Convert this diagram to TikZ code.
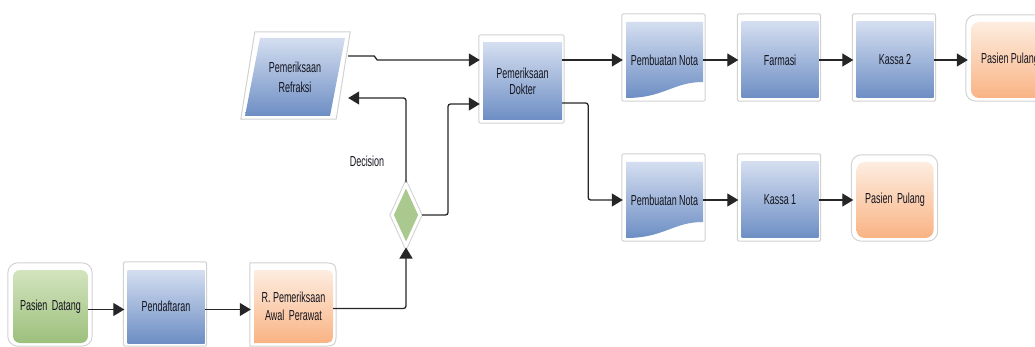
\documentclass[tikz,border=0pt]{standalone}
\usepackage{fontspec}
\setmainfont{Liberation Sans}[FakeStretch=0.62]
\usetikzlibrary{arrows.meta,shapes.geometric}
\pgfdeclarelayer{bg}\pgfsetlayers{bg,main}
\definecolor{blueTop}{HTML}{D4DEF0}
\definecolor{blueBot}{HTML}{6D8EC4}
\definecolor{greenTop}{HTML}{D3E4BE}
\definecolor{greenBot}{HTML}{9CC07C}
\definecolor{orTop}{HTML}{FDEDE0}
\definecolor{orBot}{HTML}{F9B384}
\definecolor{dGreen}{HTML}{A9C98F}
\definecolor{lineC}{HTML}{262626}
\definecolor{frameC}{HTML}{D2D2D2}
\definecolor{txt}{HTML}{14141E}
\begin{document}
\begin{tikzpicture}[x=1pt,y=-1pt,
  lbl/.style={font=\fontsize{14.5}{18}\selectfont, text=txt, align=center, inner sep=0pt},
  bluebox/.style={lbl, rectangle, top color=blueTop, bottom color=blueBot, minimum width=77pt, minimum height=76pt},
  docbox/.style={lbl, rectangle, minimum width=77pt, minimum height=76pt,
    path picture={\shade[top color=blueTop,bottom color=blueBot]
      (path picture bounding box.north west) -- (path picture bounding box.north east)
      -- ([yshift=16pt]path picture bounding box.south east)
      .. controls +(-30pt,0pt) and +(38pt,0pt) .. (path picture bounding box.south west) -- cycle;}},
  greenbox/.style={lbl, rectangle, rounded corners=7pt, top color=greenTop, bottom color=greenBot, minimum width=75pt, minimum height=73pt},
  orbox/.style={lbl, rectangle, rounded corners=8pt, top color=orTop, bottom color=orBot, minimum width=77pt, minimum height=76pt},
  delaybox/.style={lbl, rectangle, minimum width=79pt, minimum height=73pt,
    path picture={\shade[top color=orTop,bottom color=orBot]
      (path picture bounding box.south west) -- (path picture bounding box.north west)
      -- ([xshift=-14pt]path picture bounding box.north east)
      .. controls (path picture bounding box.north east) .. ([yshift=-14pt]path picture bounding box.north east)
      -- ([yshift=14pt]path picture bounding box.south east)
      .. controls (path picture bounding box.south east) .. ([xshift=-14pt]path picture bounding box.south east)
      -- cycle;}},
  parabox/.style={lbl, rectangle, minimum width=100pt, minimum height=78pt,
    path picture={\shade[top color=blueTop,bottom color=blueBot]
      (path picture bounding box.south west) -- ([xshift=-15pt]path picture bounding box.south east)
      -- (path picture bounding box.north east) -- ([xshift=15pt]path picture bounding box.north west) -- cycle;}},
  decbox/.style={diamond, aspect=0.5, inner sep=0pt, minimum width=29pt, minimum height=62pt,
    fill=dGreen, draw=white, line width=3pt, preaction={draw=frameC, line width=5pt}},
  frame/.style={draw=frameC, fill=white, line width=1pt},
  arr/.style={draw=lineC, line width=1.3pt, -{Triangle[length=11pt,width=13pt]}, rounded corners=2.5pt, shorten >=3pt}
]
\useasboundingbox (0,0) rectangle (1035,347);

% nodes
\node[greenbox] (pd) at (50.5,306.5) {Pasien\hspace{2pt} Datang};
\node[bluebox, minimum height=73pt] (pf) at (166,306.5) {Pendaftaran};
\node[delaybox] (rp) at (293.5,306.5) {R. Pemeriksaan\\Awal\hspace{2pt} Perawat};
\node[decbox] (dc) at (406,215) {};
\node[lbl] (dl) at (367,161) {Decision};
\node[parabox, font=\fontsize{14.5}{20}\selectfont] (rf) at (295,77) {Pemeriksaan\\Refraksi};
\node[bluebox, minimum width=79pt, minimum height=77pt, font=\fontsize{14.5}{16}\selectfont] (dk) at (522.5,81.5) {Pemeriksaan\\Dokter};
\node[docbox] (pn1) at (664.5,60) {Pembuatan Nota};
\node[bluebox] (fa) at (780,60) {Farmasi};
\node[bluebox] (k2) at (895,60) {Kassa 2};
\node[orbox, minimum width=78pt] (pp1) at (1010,60) {Pasien Pulang};
\node[docbox] (pn2) at (664.5,200) {Pembuatan Nota};
\node[bluebox] (k1) at (780,200) {Kassa 1};
\node[orbox] (pp2) at (895,200) {Pasien\hspace{2pt} Pulang};

% frames
\begin{pgfonlayer}{bg}
\foreach \n in {pf,dk,pn1,fa,k2,pn2,k1}
  \draw[frame, rounded corners=2pt] ([shift={(-4pt,8pt)}]\n.north west) rectangle ([shift={(2pt,-3pt)}]\n.south east);
\foreach \n in {pd,pp1,pp2}
  \draw[frame, rounded corners=10pt] ([shift={(-5pt,7pt)}]\n.north west) rectangle ([shift={(4pt,-3pt)}]\n.south east);
\draw[frame] ([shift={(-4pt,-3pt)}]rp.south west) -- ([shift={(-4pt,7pt)}]rp.north west)
  -- ([shift={(-14pt,7pt)}]rp.north east) .. controls ([shift={(3pt,7pt)}]rp.north east) .. ([shift={(3pt,-10pt)}]rp.north east)
  -- ([shift={(3pt,14pt)}]rp.south east) .. controls ([shift={(3pt,-3pt)}]rp.south east) .. ([shift={(-14pt,-3pt)}]rp.south east) -- cycle;
\draw[frame] ([shift={(10pt,6pt)}]rf.north west) -- ([shift={(5pt,6pt)}]rf.north east)
  -- ([shift={(-9pt,-3pt)}]rf.south east) -- ([shift={(-4pt,-3pt)}]rf.south west) -- cycle;
\end{pgfonlayer}

% connectors
\draw[arr] ([yshift=-3pt]pd.east) -- ([yshift=-3pt]pf.west);
\draw[arr] ([yshift=-3pt]pf.east) -- ([yshift=-3pt]rp.west);
\draw[arr, shorten >=0pt] ([yshift=-2pt]rp.east) -| (dc.south);
\draw[arr, shorten >=0pt] (dc.north) |- ([shift={(3pt,-21pt)}]rf.east);
\draw[arr] (dc.east) -- ++(26,0) |- ([yshift=-22.5pt]dk.west);
\draw[arr, rounded corners=0pt] ([shift={(3pt,21pt)}]rf.east) -- ++(26,0) -- ++(3,4) -- ([yshift=21.5pt]dk.west);
\draw[arr] ([yshift=21.5pt]dk.east) -- (pn1.west);
\draw[arr] ([yshift=-21.5pt]dk.east) -- ++(26,0) |- (pn2.west);
\draw[arr] (pn1.east) -- (fa.west);
\draw[arr] (fa.east) -- (k2.west);
\draw[arr] (k2.east) -- (pp1.west);
\draw[arr] (pn2.east) -- (k1.west);
\draw[arr] (k1.east) -- (pp2.west);
\end{tikzpicture}
\end{document}
